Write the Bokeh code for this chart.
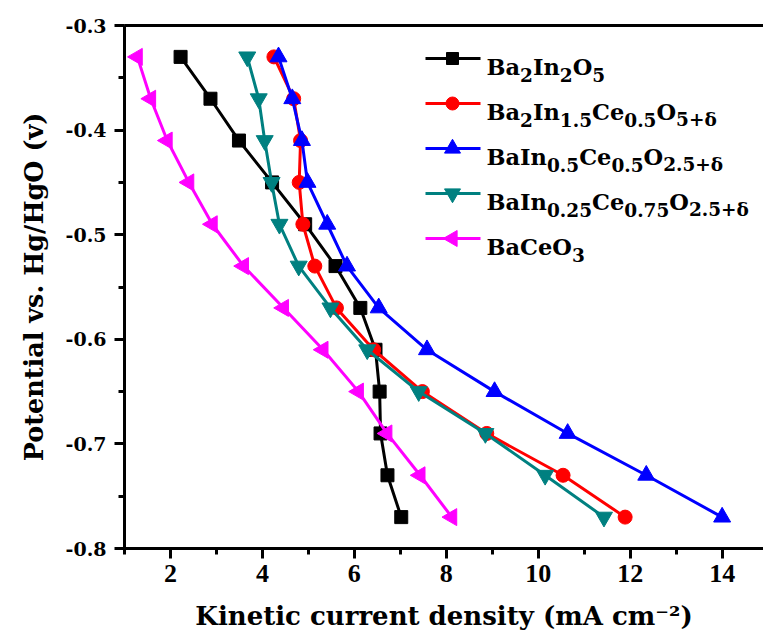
import math
from bokeh.plotting import figure
from bokeh.models import (LinearAxis, SingleIntervalTicker, FixedTicker, Range1d, Label,
                          PrintfTickFormatter)
from bokeh.embed import file_html
from bokeh.resources import INLINE

# ---------------- data ----------------
potential = [-0.33, -0.37, -0.41, -0.45, -0.49, -0.53, -0.57, -0.61, -0.65, -0.69, -0.73, -0.77]
ba2in2o5 = [2.22, 2.87, 3.49, 4.21, 4.93, 5.59, 6.13, 6.46, 6.55, 6.57, 6.72, 7.02]
ba2in15ce05 = [4.25, 4.68, 4.83, 4.80, 4.88, 5.14, 5.61, 6.42, 7.48, 8.88, 10.54, 11.89]
bain05ce05 = [4.35, 4.65, 4.86, 4.98, 5.41, 5.84, 6.53, 7.58, 9.05, 10.64, 12.35, 14.00]
bain025ce075 = [3.67, 3.92, 4.05, 4.20, 4.37, 4.79, 5.48, 6.28, 7.40, 8.85, 10.15, 11.43]
baceo3 = [1.28, 1.57, 1.93, 2.40, 2.91, 3.59, 4.46, 5.32, 6.09, 6.71, 7.43, 8.12]

# legend label pieces: (text, is_subscript)
legend_labels = [
    [("Ba", 0), ("2", 1), ("In", 0), ("2", 1), ("O", 0), ("5", 1)],
    [("Ba", 0), ("2", 1), ("In", 0), ("1.5", 1), ("Ce", 0), ("0.5", 1), ("O", 0), ("5+δ", 1)],
    [("BaIn", 0), ("0.5", 1), ("Ce", 0), ("0.5", 1), ("O", 0), ("2.5+δ", 1)],
    [("BaIn", 0), ("0.25", 1), ("Ce", 0), ("0.75", 1), ("O", 0), ("2.5+δ", 1)],
    [("BaCeO", 0), ("3", 1)],
]
x_label = "Kinetic current density (mA cm\u207b\u00b2)"
y_label = "Potential vs. Hg/HgO (v)"

series = [
    (ba2in2o5, "black", "square", 0.0, 13),
    (ba2in15ce05, "#ff0000", "circle", 0.0, 14),
    (bain05ce05, "#0000ff", "triangle", 0.0, 17),
    (bain025ce075, "#008080", "inverted_triangle", 0.0, 17),
    (baceo3, "#ff00ff", "triangle", math.pi / 2, 17),
]

# ---------------- layout constants ----------------
W, H = 763, 644
FL, FR, FT, FB = 124, 763, 25, 548
X0, X1 = 1.0, 14.9
Y0, Y1 = -0.8, -0.3

p = figure(width=W, height=H, output_backend="svg", toolbar_location=None,
           x_range=Range1d(X0, X1), y_range=Range1d(Y0, Y1),
           min_border_left=FL, min_border_right=W - FR,
           min_border_top=FT, min_border_bottom=H - FB,
           background_fill_color="white", border_fill_color="white")
p.outline_line_color = None
p.xgrid.visible = False
p.ygrid.visible = False

FONT = "DejaVu Serif"

# x axis
xa = p.xaxis[0]
xa.ticker = SingleIntervalTicker(interval=2, num_minor_ticks=2)
xa.axis_label = x_label
xa.axis_label_text_font = FONT
xa.axis_label_text_font_style = "bold"
xa.axis_label_text_font_size = "26px"
xa.axis_label_text_color = "black"
xa.axis_label_standoff = 16
xa.major_label_text_font = "Liberation Serif"
xa.major_label_text_font_style = "bold"
xa.major_label_text_font_size = "26px"
xa.major_label_text_color = "black"
xa.major_label_standoff = 6

# y axis
ya = p.yaxis[0]
ya.ticker = SingleIntervalTicker(interval=0.1, num_minor_ticks=2)
ya.formatter = PrintfTickFormatter(format="%.1f")
ya.axis_label = y_label
ya.axis_label_text_font = FONT
ya.axis_label_text_font_style = "bold"
ya.axis_label_text_font_size = "25.5px"
ya.axis_label_text_color = "black"
ya.axis_label_standoff = 14
ya.major_label_text_font = FONT
ya.major_label_text_font_style = "bold"
ya.major_label_text_font_size = "19px"
ya.major_label_text_color = "black"
ya.major_label_standoff = 8

for ax in (xa, ya):
    ax.axis_line_width = 3
    ax.axis_line_color = "black"
    ax.major_tick_in = 0
    ax.major_tick_out = 10
    ax.minor_tick_in = 0
    ax.minor_tick_out = 6
    ax.major_tick_line_width = 3
    ax.minor_tick_line_width = 3
    ax.major_tick_line_color = "black"
    ax.minor_tick_line_color = "black"

top = LinearAxis(ticker=FixedTicker(ticks=[]), axis_line_width=3, axis_line_color="black",
                 major_tick_line_color=None, minor_tick_line_color=None,
                 major_label_text_font_size="0px")
p.add_layout(top, "above")

# ---------------- data series ----------------
for xs, color, marker, ang, size in series:
    p.line(xs, potential, line_color=color, line_width=3)
    p.scatter(xs, potential, marker=marker, size=size, angle=ang,
              fill_color=color, line_color=color)

# ---------------- manual legend ----------------
def px2x(px):
    return X0 + (px - FL) / (FR - FL) * (X1 - X0)

def px2y(py):
    return Y1 - (py - FT) / (FB - FT) * (Y1 - Y0)

MAIN_SIZE, SUB_SIZE = 22.5, 18.5
_tbl = {"B": 0.80, "a": 0.65, "I": 0.47, "n": 0.76, "O": 0.83, "C": 0.78, "e": 0.65,
        ".": 0.38, "+": 0.84, "δ": 0.66}

def tw(s, size):
    try:
        from PIL import ImageFont
        f = ImageFont.truetype("/usr/share/fonts/truetype/dejavu/DejaVuSerif-Bold.ttf", size)
        return f.getlength(s)
    except Exception:
        return sum(_tbl.get(c, 0.696) for c in s) * size

row_y0, row_dy = 58, 45
for i, (xs, color, marker, ang, size) in enumerate(series):
    ry = row_y0 + i * row_dy
    p.line([px2x(425), px2x(480)], [px2y(ry), px2y(ry)], line_color=color, line_width=3)
    p.scatter([px2x(452)], [px2y(ry)], marker=marker, size=size - 1, angle=ang,
              fill_color=color, line_color=color)
    cx = 486
    for txt, sub in legend_labels[i]:
        fs = SUB_SIZE if sub else MAIN_SIZE
        by = ry + 8 + (8 if sub else 0)
        p.add_layout(Label(x=px2x(cx), y=px2y(by), text=txt, text_font=FONT,
                           text_font_style="bold", text_font_size=f"{fs}px",
                           text_color="black", text_baseline="alphabetic",
                           text_align="left"))
        cx += tw(txt, fs)

open("out.html", "w").write(file_html(p, INLINE))
